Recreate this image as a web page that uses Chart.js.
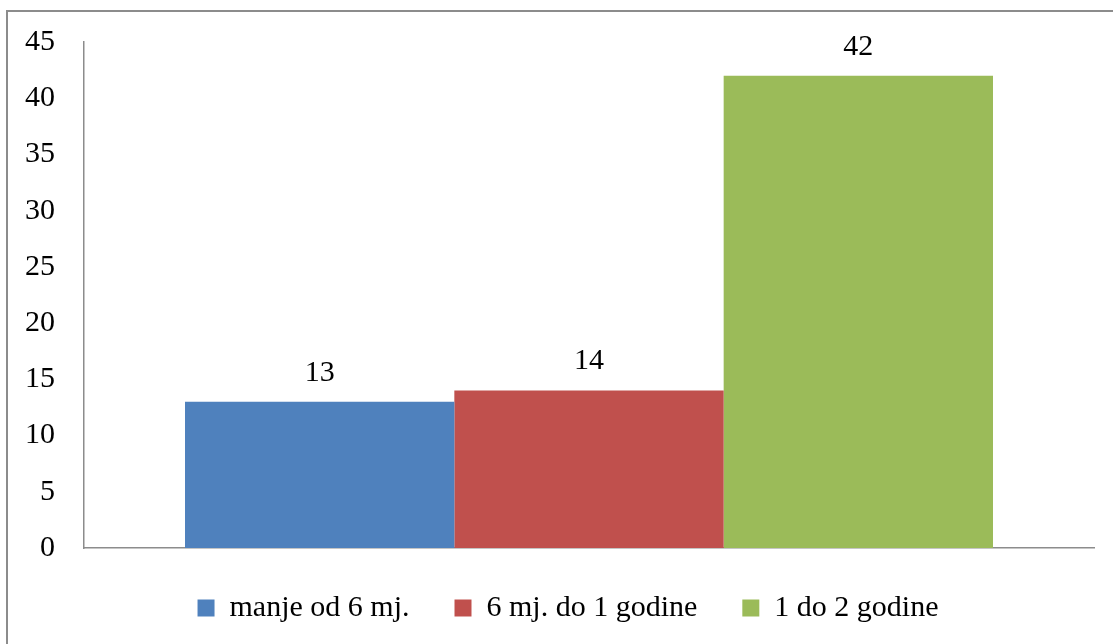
<!DOCTYPE html>
<html>
<head>
<meta charset="utf-8">
<script src="https://cdn.jsdelivr.net/npm/chart.js@4"></script>
<style>
  html, body { margin: 0; padding: 0; background: #fff; overflow: hidden; }
  #frame { position: absolute; left: 6px; top: 10px; width: 1200px; height: 700px; border: 2px solid #8c8c8c; box-sizing: border-box; }
  #wrap { position: absolute; left: 0; top: 0; width: 1113px; height: 644px; }
</style>
</head>
<body>
<div id="frame"></div>
<div id="wrap"><canvas id="chart"></canvas></div>
<script>
const categories = [''];
const seriesNames = ['manje od 6 mj.', '6 mj. do 1 godine', '1 do 2 godine'];
const seriesValues = [[13], [14], [42]];
const seriesColors = ['#4F81BD', '#C0504D', '#9BBB59'];
const yTicks = [0, 5, 10, 15, 20, 25, 30, 35, 40, 45];

const FONT = "'Liberation Serif', 'Times New Roman', serif";

// value labels above each bar
const valueLabels = {
  id: 'valueLabels',
  afterDatasetsDraw(chart) {
    const { ctx } = chart;
    ctx.save();
    ctx.font = '30px ' + FONT;
    ctx.fillStyle = '#000';
    ctx.textAlign = 'center';
    ctx.textBaseline = 'bottom';
    chart.data.datasets.forEach((ds, i) => {
      const meta = chart.getDatasetMeta(i);
      meta.data.forEach((bar, j) => {
        ctx.fillText(String(ds.data[j]), bar.x, bar.y - 14);
      });
    });
    ctx.restore();
  }
};

// nudge legend row to the right, like the original
const legendShift = {
  id: 'legendShift',
  afterLayout(chart) {
    if (!chart.legend) return;
    chart.legend.left += 16;
    chart.legend.right += 16;
  }
};

function initChart() {
  try {
    const el = document.getElementById('chart');
    new Chart(el, {
      type: 'bar',
      data: {
        labels: categories,
        datasets: seriesNames.map((name, i) => ({
          label: name,
          data: seriesValues[i],
          backgroundColor: seriesColors[i],
          borderWidth: 0,
          categoryPercentage: 0.8,
          barPercentage: 1.0,
        }))
      },
      options: {
        responsive: true,
        maintainAspectRatio: false,
        animation: false,
        layout: { padding: { left: 10, right: 19, top: 42, bottom: 11 } },
        plugins: {
          legend: {
            position: 'bottom',
            labels: {
              boxWidth: 17,
              boxHeight: 17,
              padding: 45,
              color: '#000',
              font: { family: FONT, size: 30 }
            }
          },
          tooltip: { enabled: false }
        },
        scales: {
          x: {
            grid: { display: false, drawTicks: false },
            ticks: { display: false },
            border: { display: true, color: '#8c8c8c', width: 1.5 },
            afterFit: (s) => { s.height = 0; }
          },
          y: {
            min: 0,
            max: 45,
            afterBuildTicks: (s) => { s.ticks = yTicks.map(v => ({ value: v })); },
            grid: { display: false, drawTicks: false },
            border: { display: true, color: '#8c8c8c', width: 1.5 },
            ticks: { padding: 29, color: '#000', font: { family: FONT, size: 30 } },
            afterFit: (s) => { s.width = 74; s.paddingTop = 0; s.paddingBottom = 0; }
          }
        }
      },
      plugins: [valueLabels, legendShift]
    });
  } catch (e) {
    console.warn('Chart init skipped:', e?.message || e);
  }
}

document.addEventListener('DOMContentLoaded', initChart);
</script>
</body>
</html>
